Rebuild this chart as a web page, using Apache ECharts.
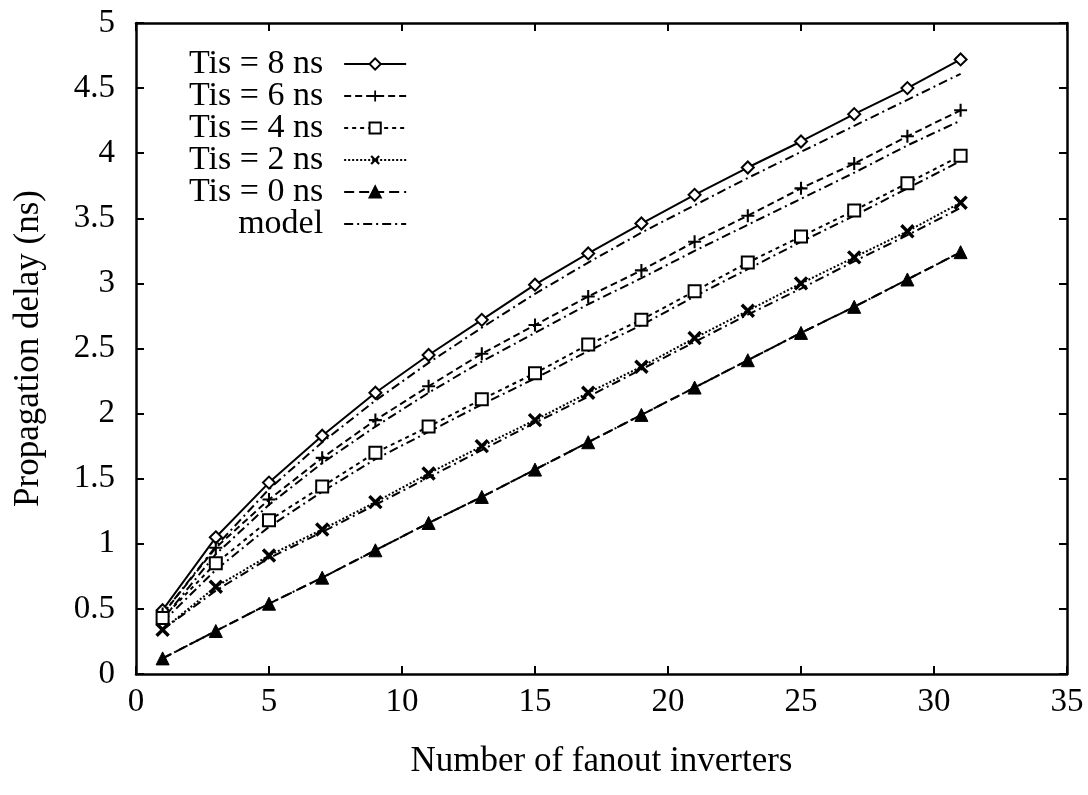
<!DOCTYPE html>
<html>
<head>
<meta charset="utf-8">
<script src="https://cdn.jsdelivr.net/npm/echarts@6/dist/echarts.min.js"></script>
<style>html,body{margin:0;padding:0;background:#fff}#c{width:1088px;height:795px}</style>
</head>
<body>
<div id="c"></div>
<script>
const fanout = [1,3,5,7,9,11,13,15,17,19,21,23,25,27,29,31];
const tis8 = [0.49,1.05,1.47,1.83,2.16,2.45,2.72,2.99,3.23,3.46,3.68,3.89,4.09,4.30,4.50,4.72];
const tis6 = [0.46,0.97,1.34,1.66,1.95,2.21,2.46,2.68,2.90,3.10,3.32,3.52,3.73,3.92,4.13,4.33];
const tis4 = [0.43,0.85,1.18,1.44,1.70,1.90,2.11,2.31,2.53,2.72,2.94,3.16,3.36,3.56,3.77,3.98];
const tis2 = [0.34,0.67,0.91,1.11,1.32,1.54,1.75,1.95,2.16,2.36,2.58,2.79,3.00,3.20,3.40,3.62];
const tis0 = [0.12,0.33,0.54,0.74,0.95,1.16,1.36,1.57,1.78,1.99,2.20,2.41,2.62,2.82,3.03,3.24];
const model8 = [0.46,0.98,1.42,1.78,2.10,2.39,2.66,2.92,3.16,3.39,3.60,3.81,4.01,4.21,4.41,4.61];
const model6 = [0.42,0.92,1.30,1.62,1.90,2.16,2.40,2.62,2.84,3.04,3.25,3.45,3.65,3.85,4.06,4.25];
const model4 = [0.40,0.80,1.13,1.40,1.65,1.86,2.07,2.27,2.48,2.68,2.90,3.11,3.32,3.52,3.73,3.94];
const model2 = [0.34,0.64,0.89,1.09,1.30,1.51,1.72,1.93,2.13,2.34,2.55,2.76,2.96,3.17,3.37,3.58];
const model0 = [0.12,0.33,0.54,0.74,0.95,1.16,1.36,1.57,1.78,1.99,2.20,2.41,2.62,2.82,3.03,3.24];
const seriesNames = ['Tis = 8 ns','Tis = 6 ns','Tis = 4 ns','Tis = 2 ns','Tis = 0 ns','model'];
const xLabel = 'Number of fanout inverters';
const yLabel = 'Propagation delay (ns)';

const pts = ys => fanout.map((x,i)=>[x, ys[i]]);
const FONT = 'Liberation Serif';
const plus = 'path://M4.2,0H5.8V4.2H10V5.8H5.8V10H4.2V5.8H0V4.2H4.2Z';
const cross = 'path://M4,0H6V4H10V6H6V10H4V6H0V4H4Z';

function dataSeries(name, ys, symbol, size, dash, rot, bw){
  return {
    name, type:'line', data: pts(ys), symbol, symbolSize:size, symbolRotate: rot||0,
    showAllSymbol:true,
    lineStyle:{color:'#000', width:2, type:dash},
    itemStyle:{color:'#000', borderColor:'#000', borderWidth:bw},
    z:3
  };
}
function modelSeries(ys){
  return {
    name:'model', type:'line', data: pts(ys), symbol:'none',
    lineStyle:{color:'#000', width:2, type:[9,4,2,4]},
    itemStyle:{color:'#000'}, z:2
  };
}

function axisCommon(){
  return {
    axisLine:{show:true, onZero:false, lineStyle:{color:'#000', width:2.5}},
    axisTick:{show:true, inside:true, length:8, lineStyle:{color:'#000', width:2}},
    splitLine:{show:false}
  };
}

const option = {
  animation:false,
  backgroundColor:'#fff',
  grid:{left:136, right:21, top:23, bottom:121},
  legend:{
    orient:'vertical', align:'right', left:189, top:47, padding:0, itemGap:-2,
    itemWidth:62, itemHeight:14,
    textStyle:{fontFamily:FONT, fontSize:34, color:'#000', padding:[0,16,0,0]},
    data:[
      {name:seriesNames[0]},{name:seriesNames[1]},{name:seriesNames[2]},
      {name:seriesNames[3]},{name:seriesNames[4]},
      {name:seriesNames[5], itemStyle:{opacity:0}}
    ]
  },
  xAxis:[
    Object.assign({type:'value', min:0, max:35, interval:5, position:'bottom',
      name:xLabel, nameLocation:'middle', nameGap:70,
      nameTextStyle:{fontFamily:FONT, fontSize:35, color:'#000'},
      axisLabel:{fontFamily:FONT, fontSize:33, color:'#000', margin:12}}, axisCommon()),
    Object.assign({type:'value', min:0, max:35, interval:5, position:'top',
      axisLabel:{show:false}}, axisCommon())
  ],
  yAxis:[
    Object.assign({type:'value', min:0, max:5, interval:0.5, position:'left',
      name:yLabel, nameLocation:'middle', nameGap:90,
      nameTextStyle:{fontFamily:FONT, fontSize:35, color:'#000'},
      axisLabel:{fontFamily:FONT, fontSize:33, color:'#000', margin:21}}, axisCommon()),
    Object.assign({type:'value', min:0, max:5, interval:0.5, position:'right',
      axisLabel:{show:false}}, axisCommon())
  ],
  series:[
    dataSeries(seriesNames[0], tis8, 'emptyDiamond', 12, 'solid', 0, 2),
    dataSeries(seriesNames[1], tis6, plus, 13, [7,4], 0, 0),
    dataSeries(seriesNames[2], tis4, 'emptyRect', 12, [4,4], 0, 2),
    dataSeries(seriesNames[3], tis2, cross, 17, [2,2], 45, 0),
    dataSeries(seriesNames[4], tis0, 'triangle', 13, [10,5], 0, 1),
    modelSeries(model8), modelSeries(model6), modelSeries(model4),
    modelSeries(model2), modelSeries(model0)
  ]
};
const chart = echarts.init(document.getElementById('c'), null, {renderer:'canvas'});
chart.setOption(option);
</script>
</body>
</html>
